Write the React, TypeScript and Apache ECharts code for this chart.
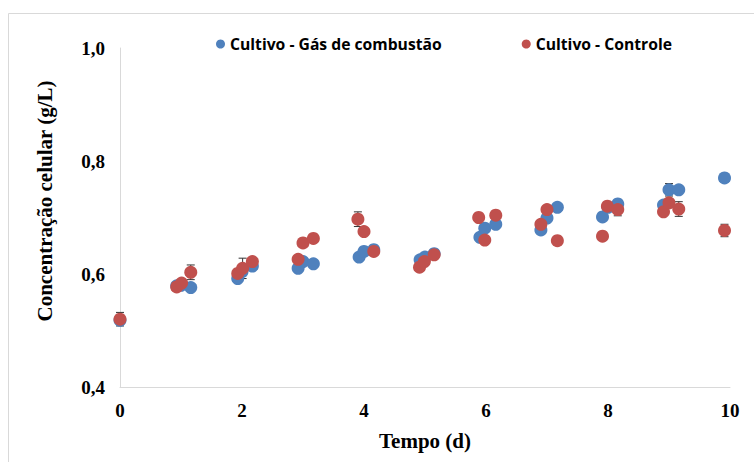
import React, { useEffect, useRef } from "react";
import * as echarts from "echarts";

const seriesNames = ["Cultivo - Gás de combustão", "Cultivo - Controle"];
const colors = ["#4F81BD", "#C0504D"];
const xAxisTitle = "Tempo (d)";
const yAxisTitle = "Concentração celular (g/L)";

// [tempo (d), concentração (g/L)]
const gasData: number[][] = [
  [0, 0.518],
  [0.93, 0.579], [1.0, 0.58], [1.16, 0.576],
  [1.93, 0.592], [2.0, 0.604], [2.17, 0.614],
  [2.92, 0.61], [3.0, 0.622], [3.17, 0.618],
  [3.92, 0.63], [4.0, 0.64], [4.16, 0.643],
  [4.92, 0.625], [5.0, 0.63], [5.15, 0.636],
  [5.9, 0.665], [5.98, 0.681], [6.16, 0.688],
  [6.9, 0.678], [7.0, 0.699], [7.17, 0.718],
  [7.91, 0.701], [8.0, 0.718], [8.16, 0.724],
  [8.91, 0.722], [9.0, 0.749], [9.16, 0.749],
  [9.91, 0.77],
];
const gasErr: number[] = [
  0.004,
  0.004, 0.004, 0.004,
  0.004, 0.012, 0.004,
  0.004, 0.004, 0.004,
  0.004, 0.004, 0.004,
  0.004, 0.004, 0.004,
  0.004, 0.004, 0.004,
  0.008, 0.004, 0.004,
  0.004, 0.004, 0.004,
  0.004, 0.011, 0.004,
  0.004,
];

const controleData: number[][] = [
  [0, 0.52],
  [0.93, 0.577], [1.01, 0.584], [1.16, 0.603],
  [1.93, 0.601], [2.01, 0.61], [2.17, 0.622],
  [2.92, 0.626], [3.0, 0.655], [3.17, 0.663],
  [3.9, 0.697], [4.0, 0.675], [4.16, 0.64],
  [4.91, 0.612], [4.99, 0.622], [5.15, 0.634],
  [5.88, 0.7], [5.98, 0.66], [6.16, 0.704],
  [6.9, 0.688], [7.0, 0.714], [7.17, 0.659],
  [7.91, 0.667], [7.99, 0.72], [8.16, 0.714],
  [8.91, 0.71], [9.0, 0.726], [9.16, 0.715],
  [9.91, 0.677],
];
const controleErr: number[] = [
  0.012,
  0.004, 0.006, 0.013,
  0.004, 0.018, 0.006,
  0.004, 0.004, 0.006,
  0.013, 0.004, 0.004,
  0.004, 0.004, 0.004,
  0.004, 0.004, 0.004,
  0.004, 0.006, 0.004,
  0.004, 0.004, 0.011,
  0.004, 0.004, 0.013,
  0.011,
];

const xTicks = { min: 0, max: 10, interval: 2 };
const yTicks = { min: 0.4, max: 1.0, interval: 0.2 };

const serif = "'Liberation Serif', 'Times New Roman', serif";
const sans = "'Open Sans', 'Liberation Sans', sans-serif";

function errorSeries(data: number[][], err: number[]) {
  const rows = data.map((d, i) => [d[0], d[1] - err[i], d[1] + err[i]]);
  return {
    type: "custom",
    silent: true,
    z: 1,
    data: rows,
    renderItem: (params: any, api: any) => {
      const x = api.value(0);
      const lo = api.coord([x, api.value(1)]);
      const hi = api.coord([x, api.value(2)]);
      const w = 4;
      const style = { stroke: "#333", lineWidth: 1 };
      return {
        type: "group",
        children: [
          { type: "line", shape: { x1: lo[0], y1: lo[1], x2: hi[0], y2: hi[1] }, style },
          { type: "line", shape: { x1: hi[0] - w, y1: hi[1], x2: hi[0] + w, y2: hi[1] }, style },
          { type: "line", shape: { x1: lo[0] - w, y1: lo[1], x2: lo[0] + w, y2: lo[1] }, style },
        ],
      };
    },
  };
}

export default function App() {
  const ref = useRef<HTMLDivElement>(null);
  useEffect(() => {
    if (!ref.current) return;
    const chart = echarts.init(ref.current, undefined, { renderer: "svg" });
    chart.setOption({
      animation: false,
      backgroundColor: "#ffffff",
      graphic: [
        {
          type: "rect",
          shape: { x: 8.5, y: 13.5, width: 800, height: 500 },
          style: { fill: "none", stroke: "#d9d9d9", lineWidth: 1 },
          z: 0,
        },
        {
          type: "text",
          x: 45,
          y: 201,
          rotation: Math.PI / 2,
          style: {
            text: yAxisTitle,
            fontFamily: serif,
            fontWeight: "bold",
            fontSize: 21,
            fill: "#000",
            align: "center",
            verticalAlign: "middle",
          },
        },
      ],
      legend: {
        top: 31,
        left: 211,
        itemGap: 80,
        itemWidth: 9,
        itemHeight: 9,
        icon: "circle",
        textStyle: { fontFamily: sans, fontWeight: "bold", fontSize: 15.7, color: "#000" },
        data: seriesNames,
      },
      grid: { left: 120, right: 24, top: 48, bottom: 75 },
      xAxis: {
        type: "value",
        min: xTicks.min,
        max: xTicks.max,
        interval: xTicks.interval,
        name: xAxisTitle,
        nameLocation: "middle",
        nameGap: 43,
        nameTextStyle: { fontFamily: serif, fontWeight: "bold", fontSize: 21, color: "#000" },
        axisLine: { lineStyle: { color: "#d9d9d9" } },
        axisTick: { show: false },
        splitLine: { show: false },
        axisLabel: { fontFamily: serif, fontWeight: "bold", fontSize: 19, color: "#000", margin: 14 },
      },
      yAxis: {
        type: "value",
        min: yTicks.min,
        max: yTicks.max,
        interval: yTicks.interval,
        axisLine: { show: true, lineStyle: { color: "#d9d9d9" } },
        axisTick: { show: false },
        splitLine: { show: false },
        axisLabel: {
          fontFamily: serif,
          fontWeight: "bold",
          fontSize: 19,
          color: "#000",
          margin: 15,
          formatter: (v: number) => v.toFixed(1).replace(".", ","),
        },
      },
      series: [
        errorSeries(gasData, gasErr),
        {
          name: seriesNames[0],
          type: "scatter",
          data: gasData,
          symbolSize: 13,
          itemStyle: { color: colors[0], opacity: 1 },
          z: 2,
        },
        errorSeries(controleData, controleErr),
        {
          name: seriesNames[1],
          type: "scatter",
          data: controleData,
          symbolSize: 13,
          itemStyle: { color: colors[1], opacity: 1 },
          z: 3,
        },
      ],
    });
    return () => chart.dispose();
  }, []);
  return (
    <div
      ref={ref}
      style={{ position: "fixed", left: 0, top: 0, width: 754, height: 462 }}
    />
  );
}
